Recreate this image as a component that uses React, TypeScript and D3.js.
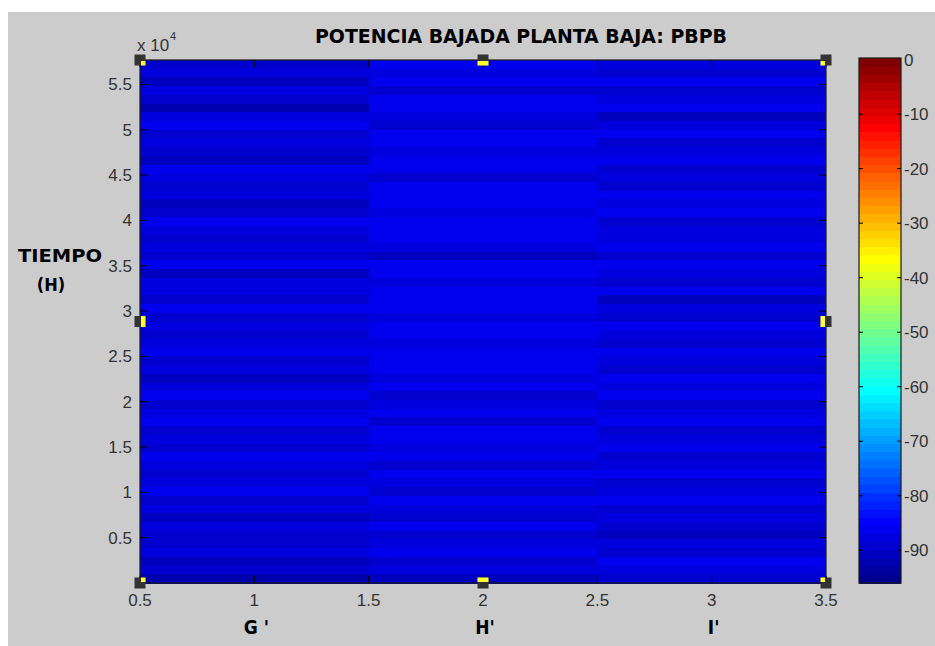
import React from "react";
import * as d3 from "d3";

// column categories and x positions
const categories = ["G '", "H'", "I'"];
const categoryX = [1, 2, 3];

// stripe values (dB), listed from the top row (latest time) down to time 0
const valuesG = [
  -89.5, -87.5, -90.5, -87.5, -88.5, -91.5, -87.5, -86.5, -89.5, -87.5,
  -88.5, -90.5, -86.5, -87.5, -89.5, -87.5, -90.5, -88.5, -86.5, -87.5,
  -89.5, -87.5, -88.5, -86.5, -90.5, -87.5, -87.5, -89.5, -86.5, -88.5,
  -87.5, -89.5, -87.5, -86.5, -88.5, -87.5, -90.5, -87.5, -86.5, -88.5,
  -87.5, -86.5, -89.5, -87.5, -88.5, -86.5, -87.5, -89.5, -87.5, -86.5,
  -88.5, -87.5, -90.5, -87.5, -88.5, -89.5, -87.5, -90.5, -88.5, -91.5,
];
const valuesH = [
  -86.5, -87.5, -85.5, -88.5, -86.5, -85.5, -87.5, -89.5, -86.5, -85.5,
  -87.5, -86.5, -85.5, -88.5, -86.5, -85.5, -86.5, -87.5, -85.5, -86.5,
  -85.5, -87.5, -90.5, -86.5, -85.5, -87.5, -86.5, -85.5, -86.5, -87.5,
  -85.5, -86.5, -87.5, -85.5, -86.5, -85.5, -87.5, -86.5, -89.5, -87.5,
  -86.5, -88.5, -86.5, -85.5, -87.5, -86.5, -88.5, -86.5, -87.5, -89.5,
  -86.5, -87.5, -89.5, -86.5, -88.5, -87.5, -86.5, -88.5, -87.5, -90.5,
];
const valuesI = [
  -87.5, -88.5, -86.5, -89.5, -87.5, -86.5, -90.5, -87.5, -86.5, -88.5,
  -87.5, -86.5, -89.5, -87.5, -88.5, -86.5, -87.5, -86.5, -89.5, -87.5,
  -87.5, -86.5, -88.5, -86.5, -87.5, -89.5, -86.5, -90.5, -87.5, -88.5,
  -86.5, -87.5, -89.5, -86.5, -87.5, -88.5, -86.5, -87.5, -86.5, -89.5,
  -87.5, -86.5, -88.5, -87.5, -86.5, -89.5, -87.5, -86.5, -88.5, -87.5,
  -86.5, -89.5, -87.5, -88.5, -90.5, -87.5, -89.5, -86.5, -87.5, -88.5,
];

const xTicks = [0.5, 1, 1.5, 2, 2.5, 3, 3.5];
const yTicks = [5000, 10000, 15000, 20000, 25000, 30000, 35000, 40000, 45000, 50000, 55000];
const cTicks = [0, -10, -20, -30, -40, -50, -60, -70, -80, -90];
const timeMax = 57700;
const cMin = -96;
const cMax = 0.3;

// MATLAB jet(64)
const jet = (k: number) => {
  const u = (j: number) => (j <= 16 ? j / 16 : j <= 31 ? 1 : (48 - j) / 16);
  const ch = (j: number) => (j >= 1 && j <= 47 ? u(j) : 0);
  const r = ch(k - 24);
  const g = ch(k - 8);
  const b = ch(k + 8);
  return d3.rgb(r * 255, g * 255, b * 255).formatHex();
};
const colorOf = (v: number) => {
  let k = Math.floor(((v - cMin) / (cMax - cMin)) * 64) + 1;
  k = Math.max(1, Math.min(64, k));
  return jet(k);
};

const W = 935;
const H = 646;
const plot = { left: 140, right: 826, top: 60, bottom: 583 };
const bar = { left: 859, right: 901, top: 58, bottom: 583 };
const tickFont = "'Liberation Sans', Arial, sans-serif";
const boldFont = "'DejaVu Sans Condensed', 'DejaVu Sans', sans-serif";

export default function App() {
  const x = d3.scaleLinear().domain([0.5, 3.5]).range([plot.left, plot.right]);
  const y = d3.scaleLinear().domain([0, timeMax]).range([plot.bottom, plot.top]);
  const c = d3.scaleLinear().domain([cMin, cMax]).range([bar.bottom, bar.top]);

  const columns = [valuesG, valuesH, valuesI];
  const cells: { x0: number; x1: number; y0: number; y1: number; fill: string }[] = [];
  columns.forEach((col, ci) => {
    const n = col.length;
    const step = timeMax / n;
    col.forEach((v, i) => {
      const t1 = timeMax - i * step;
      const t0 = t1 - step;
      cells.push({
        x0: x(categoryX[ci] - 0.5),
        x1: x(categoryX[ci] + 0.5),
        y0: y(t1),
        y1: y(t0),
        fill: colorOf(v),
      });
    });
  });

  const levels = d3.range(64).map((i) => ({
    v0: cMin + ((cMax - cMin) * i) / 64,
    v1: cMin + ((cMax - cMin) * (i + 1)) / 64,
    fill: jet(i + 1),
  }));

  const midX = (plot.left + plot.right) / 2;
  const midY = (plot.top + plot.bottom) / 2;
  const handles = [
    [plot.left, plot.top], [midX, plot.top], [plot.right, plot.top],
    [plot.left, midY], [plot.right, midY],
    [plot.left, plot.bottom], [midX, plot.bottom], [plot.right, plot.bottom],
  ];

  const tickLen = 7;

  return (
    <svg
      width={W}
      height={H}
      style={{ position: "absolute", left: 0, top: 0, display: "block" }}
    >
      <rect x={0} y={0} width={W} height={H} fill="#ffffff" />
      <rect x={8} y={12} width={W - 8} height={H - 12} fill="#cccccc" />

      <text
        x={315}
        y={43}
        fontFamily={boldFont}
        fontWeight="bold"
        fontSize={19}
        textLength={412}
        lengthAdjust="spacingAndGlyphs"
        fill="#000"
      >
        POTENCIA BAJADA PLANTA BAJA: PBPB
      </text>

      {/* heatmap */}
      {cells.map((d, i) => (
        <rect
          key={i}
          x={d.x0}
          y={d.y0}
          width={d.x1 - d.x0}
          height={d.y1 - d.y0 + 0.5}
          fill={d.fill}
          shapeRendering="crispEdges"
        />
      ))}

      {/* axes box */}
      <rect
        x={plot.left}
        y={plot.top}
        width={plot.right - plot.left}
        height={plot.bottom - plot.top}
        fill="none"
        stroke="#1a1a1a"
        strokeWidth={1.2}
      />
      {xTicks.map((t) => (
        <g key={"xt" + t}>
          <line x1={x(t)} x2={x(t)} y1={plot.bottom} y2={plot.bottom - tickLen} stroke="#000" />
          <line x1={x(t)} x2={x(t)} y1={plot.top} y2={plot.top + tickLen} stroke="#000" />
          <text
            x={x(t)}
            y={606}
            textAnchor="middle"
            fontFamily={tickFont}
            fontSize={17}
            fill="#333"
          >
            {t}
          </text>
        </g>
      ))}
      {yTicks.map((t) => (
        <g key={"yt" + t}>
          <line x1={plot.left} x2={plot.left + tickLen} y1={y(t)} y2={y(t)} stroke="#000" />
          <line x1={plot.right} x2={plot.right - tickLen} y1={y(t)} y2={y(t)} stroke="#000" />
          <text
            x={plot.left - 8}
            y={y(t) + 6}
            textAnchor="end"
            fontFamily={tickFont}
            fontSize={17}
            fill="#333"
          >
            {t / 10000}
          </text>
        </g>
      ))}
      <text x={137} y={51} fontFamily={tickFont} fontSize={17} fill="#333">
        x 10
      </text>
      <text x={170} y={40} fontFamily={tickFont} fontSize={11} fill="#333">
        4
      </text>

      {/* selection handles */}
      {handles.map(([hx, hy], i) => {
        const s = 11;
        const x0 = Math.max(hx - s / 2, plot.left + 1);
        const x1 = Math.min(hx + s / 2, plot.right - 1);
        const y0 = Math.max(hy - s / 2, plot.top + 1);
        const y1 = Math.min(hy + s / 2, plot.bottom - 1);
        return (
          <g key={"h" + i}>
            <rect x={hx - s / 2} y={hy - s / 2} width={s} height={s} fill="#333333" />
            <rect x={x0} y={y0} width={x1 - x0} height={y1 - y0} fill="#ffff33" />
          </g>
        );
      })}

      {/* axis labels */}
      <text
        x={18}
        y={262}
        fontFamily={boldFont}
        fontWeight="bold"
        fontSize={18}
        textLength={84}
        lengthAdjust="spacingAndGlyphs"
        fill="#000"
      >
        TIEMPO
      </text>
      <text x={51} y={291} textAnchor="middle" fontFamily={boldFont} fontWeight="bold" fontSize={18} fill="#000">
        (H)
      </text>
      {categories.map((cat, i) => (
        <text
          key={cat}
          x={x(categoryX[i]) + 2}
          y={634}
          textAnchor="middle"
          fontFamily={boldFont}
          fontWeight="bold"
          fontSize={19}
          fill="#000"
        >
          {cat}
        </text>
      ))}

      {/* colorbar */}
      {levels.map((l, i) => (
        <rect
          key={"c" + i}
          x={bar.left}
          y={c(l.v1)}
          width={bar.right - bar.left}
          height={c(l.v0) - c(l.v1) + 0.5}
          fill={l.fill}
          shapeRendering="crispEdges"
        />
      ))}
      <rect
        x={bar.left}
        y={bar.top}
        width={bar.right - bar.left}
        height={bar.bottom - bar.top}
        fill="none"
        stroke="#1a1a1a"
        strokeWidth={1.2}
      />
      {cTicks.map((t) => (
        <g key={"ct" + t}>
          {t !== 0 && (
            <>
              <line x1={bar.left} x2={bar.left + 4} y1={c(t)} y2={c(t)} stroke="#000" />
              <line x1={bar.right} x2={bar.right - 4} y1={c(t)} y2={c(t)} stroke="#000" />
            </>
          )}
          <text
            x={bar.right + 3}
            y={c(t) + 6}
            fontFamily={tickFont}
            fontSize={17}
            fill="#333"
          >
            {t}
          </text>
        </g>
      ))}
    </svg>
  );
}
